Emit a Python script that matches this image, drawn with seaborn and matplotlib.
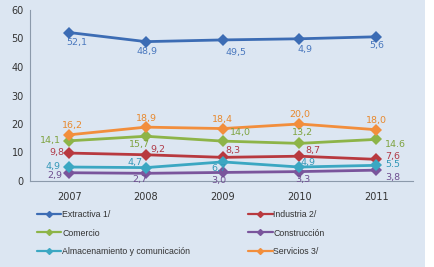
import matplotlib
matplotlib.use("Agg")
import matplotlib.pyplot as plt
import seaborn as sns
import pandas as pd
from matplotlib.lines import Line2D
from matplotlib.patches import Rectangle

years = [2007, 2008, 2009, 2010, 2011]
series_names = ["Extractiva 1/", "Industria 2/", "Comercio", "Construcción",
                "Almacenamiento y comunicación", "Servicios 3/"]
extractiva = [52.1, 48.9, 49.5, 49.9, 50.6]
industria = [9.8, 9.2, 8.3, 8.7, 7.6]
comercio = [14.1, 15.7, 14.0, 13.2, 14.6]
construccion = [2.9, 2.7, 3.0, 3.3, 3.8]
almacenamiento = [4.9, 4.7, 6.7, 4.9, 5.5]
servicios = [16.2, 18.9, 18.4, 20.0, 18.0]

labels_extractiva = ["52,1", "48,9", "49,5", "4,9", "5,6"]
labels_industria = ["9,8", "9,2", "8,3", "8,7", "7,6"]
labels_comercio = ["14,1", "15,7", "14,0", "13,2", "14.6"]
labels_construccion = ["2,9", "2,7", "3,0", "3,3", "3,8"]
labels_almacenamiento = ["4,9", "4,7", "6,7", "4,9", "5.5"]
labels_servicios = ["16,2", "18,9", "18,4", "20,0", "18,0"]

yticks = [0, 10, 20, 30, 40, 50, 60]

colors = ["#3C6CB4", "#B8393F", "#8DB448", "#7A559C", "#3BA7C2", "#F28E3C"]
label_colors = ["#4A78BE", "#B03A48", "#7EA340", "#6E4E90", "#3498B8", "#E8892E"]

values = [extractiva, industria, comercio, construccion, almacenamiento, servicios]
labels = [labels_extractiva, labels_industria, labels_comercio,
          labels_construccion, labels_almacenamiento, labels_servicios]

# label offsets in pixels (dx, dy; dy positive = up)
offsets = [
    [(8, -10), (1, -10), (13, -13), (6, -11), (1, -9)],
    [(-12, 1), (12, 5), (10, 7), (13, 6), (17, 3)],
    [(-19, 0), (-6, -8), (18, 9), (3, 11), (19, -5)],
    [(-14, -3), (-6, -6), (-4, -8), (3, -8), (17, -7)],
    [(-16, 1), (-11, 5), (-4, -7), (9, 5), (17, 1)],
    [(3, 9), (1, 9), (0, 9), (0, 9), (0, 9)],
]

rows = []
for name, vals in zip(series_names, values):
    for y, v in zip(years, vals):
        rows.append({"year": y, "value": v, "serie": name})
df = pd.DataFrame(rows)

sns.set_style("white")
plt.rcParams['font.family'] = ['DejaVu Sans']

bg = "#DCE6F2"
fig = plt.figure(figsize=(4.34, 2.67), dpi=100)
fig.patch.set_facecolor(bg)
# white strip at right edge
fig.add_artist(Rectangle((425 / 434, 0), 9 / 434, 1, transform=fig.transFigure,
                         facecolor="white", edgecolor="none", zorder=0))

ax = fig.add_axes([30 / 434, 86 / 267, (413 - 30) / 434, (257 - 86) / 267])
ax.set_facecolor(bg)

palette = dict(zip(series_names, colors))
sns.lineplot(data=df, x="year", y="value", hue="serie", palette=palette,
             marker="D", markersize=6, markeredgewidth=0, linewidth=2,
             ax=ax, legend=False, sort=False)

for vals, labs, offs, c in zip(values, labels, offsets, label_colors):
    for x, v, lab, (dx, dy) in zip(years, vals, labs, offs):
        ax.annotate(lab, (x, v), xytext=(dx, dy), textcoords="offset pixels",
                    ha="center", va="center", fontsize=6.8, color=c)

ax.set_xlim(2006.49, 2011.48)
ax.set_ylim(0, 60)
ax.set_xticks(years)
ax.set_xticklabels([str(y) for y in years])
ax.set_yticks(yticks)
ax.tick_params(axis="both", length=0, labelsize=7, colors="#333333")
ax.tick_params(axis="x", pad=8)
ax.tick_params(axis="y", pad=4.5)
ax.set_xlabel("")
ax.set_ylabel("")
for s in ["top", "right"]:
    ax.spines[s].set_visible(False)
for s in ["left", "bottom"]:
    ax.spines[s].set_color("#8C9AAB")
    ax.spines[s].set_linewidth(0.8)

# legend laid out row-wise (two columns)
order = [0, 2, 4, 1, 3, 5]
handles = [Line2D([0], [0], color=colors[i], marker="D", markersize=3, linewidth=1.6)
           for i in order]
leg_labels = [series_names[i] for i in order]
leg = fig.legend(handles, leg_labels, loc="upper left",
                 bbox_to_anchor=(29 / 434, 1 - 202 / 267), ncol=2,
                 frameon=False, handlelength=2.8,
                 handletextpad=0.1, columnspacing=6.6, labelspacing=1.1,
                 prop={"family": ["Liberation Sans Narrow", "Liberation Sans", "DejaVu Sans"],
                       "size": 6.3})
for t in leg.get_texts():
    t.set_color("#333333")

fig.savefig("out.png", dpi=100, facecolor=bg)
